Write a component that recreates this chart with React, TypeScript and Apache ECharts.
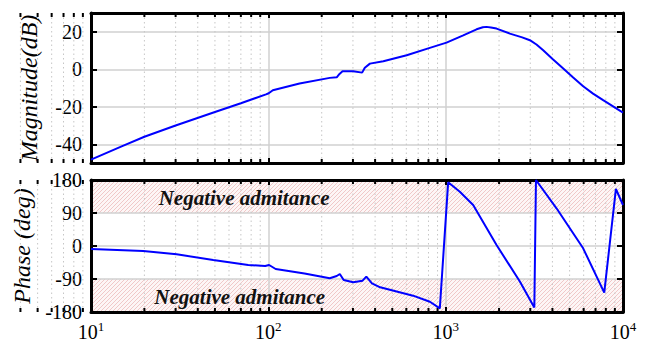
import React, { useEffect, useRef } from "react";
import * as echarts from "echarts";

// Magnitude curve (frequency in Hz, magnitude in dB)
const magFreq = [10, 15, 20, 30, 50, 70, 97, 100.5, 106, 150, 222, 243, 252, 262, 301, 338, 350, 374, 445, 603, 814, 1011, 1256, 1494, 1620, 1700, 1800, 1936, 2302, 2700, 2985, 3251, 3548, 4036, 4603, 5236, 5960, 6776, 7727, 10000];
const magDb = [-48.2, -41, -36, -30, -22.8, -18.1, -13.4, -12.8, -11.2, -7.6, -4.6, -4.3, -2.5, -1.1, -1.1, -1.8, 0.8, 3.0, 4.3, 7.5, 11.4, 14.2, 18.1, 21.3, 22.4, 22.6, 22.3, 21.7, 19.0, 17.0, 15.5, 13.2, 10.1, 5.2, 0.4, -4.4, -9.1, -13.0, -16.5, -23.1];

// Phase curve (frequency in Hz, phase in deg)
const phaseFreq = [10, 19.7, 30.4, 48.9, 77, 96, 101, 110, 160, 222, 243, 253, 266, 301, 340, 357, 384, 427, 655, 815, 927, 1033, 1202, 1429, 1936, 2620, 3162, 3230, 4217, 5960, 7840, 9120, 10000];
const phaseDeg = [-8.2, -13.6, -22.7, -38, -51.8, -54.5, -51.8, -62.7, -75, -88, -81.8, -76.4, -92.7, -99, -94.6, -83.6, -101.8, -112.7, -135.5, -152, -170, 173.7, 148, 111.8, 2.7, -97, -168, 180, 102.8, -6.3, -127, 155.5, 111.8];

// Axis ticks
const minorFreq = [2, 3, 4, 5, 6, 7, 8, 9, 20, 30, 40, 50, 60, 70, 80, 90, 200, 300, 400, 500, 600, 700, 800, 900, 2000, 3000, 4000, 5000, 6000, 7000, 8000, 9000];
const magTicks = [-40, -20, 0, 20];
const F_MIN = 10;
const F_MAX = 10000;

// Negative admittance bands (deg)
const bandLow = [90, -180];
const bandHigh = [180, -90];

// Annotations
const noteFreq = [73, 69];
const notePhase = [131, -139];
const noteText = ["Negative admitance", "Negative admitance"];

const FONT = "Liberation Serif";

function makeHatch(): HTMLCanvasElement {
  const c = document.createElement("canvas");
  c.width = 4;
  c.height = 4;
  const g = c.getContext("2d")!;
  g.fillStyle = "#fdf6f6";
  g.fillRect(0, 0, 4, 4);
  g.strokeStyle = "#f0c8c8";
  g.lineWidth = 1;
  g.beginPath();
  g.moveTo(0, 4);
  g.lineTo(4, 0);
  g.moveTo(-1, 1);
  g.lineTo(1, -1);
  g.moveTo(3, 5);
  g.lineTo(5, 3);
  g.stroke();
  return c;
}

export default function App() {
  const ref = useRef<HTMLDivElement>(null);

  useEffect(() => {
    if (!ref.current) return;
    const chart = echarts.init(ref.current, null, { renderer: "svg" });
    const hatch = makeHatch();

    const frame = { show: true, onZero: false, lineStyle: { color: "#000", width: 3 } };
    const tickIn = (len: number) => ({ show: true, inside: true, length: len, lineStyle: { color: "#000", width: 2 } });
    const splitMajor = { show: true, lineStyle: { color: "#d0d0d0", width: 1.5 } };

    const minorSeries = (xi: number, yi: number, yRef: number) => ({
      type: "custom",
      xAxisIndex: xi,
      yAxisIndex: yi,
      z: 1,
      silent: true,
      data: minorFreq.map((f) => [f, yRef]),
      encode: { x: 0, y: 1 },
      renderItem: (params: any, api: any) => {
        const cs = params.coordSys;
        const x = api.coord([api.value(0), api.value(1)])[0];
        return {
          type: "group",
          children: [
            { type: "line", shape: { x1: x, y1: cs.y, x2: x, y2: cs.y + cs.height }, style: { stroke: "#c6c6c6", lineWidth: 1, lineDash: [1.5, 3] } },
            { type: "line", shape: { x1: x, y1: cs.y, x2: x, y2: cs.y + 4 }, style: { stroke: "#000", lineWidth: 2 } },
            { type: "line", shape: { x1: x, y1: cs.y + cs.height - 4, x2: x, y2: cs.y + cs.height }, style: { stroke: "#000", lineWidth: 2 } },
          ],
        };
      },
    });

    const xBase = (gridIndex: number, position: string, labels: boolean, split: boolean) => ({
      type: "log",
      logBase: 10,
      gridIndex,
      position,
      min: F_MIN,
      max: F_MAX,
      axisLine: frame,
      axisTick: tickIn(5),
      splitLine: split ? splitMajor : { show: false },
      axisLabel: labels
        ? {
            show: true,
            margin: 8,
            formatter: (v: number) => "{a|10}{b|" + Math.round(Math.log10(v)) + "}",
            rich: {
              a: { fontFamily: FONT, fontSize: 20, color: "#000", lineHeight: 22, verticalAlign: "bottom" },
              b: { fontFamily: FONT, fontSize: 13, color: "#000", verticalAlign: "top", lineHeight: 22 },
            },
          }
        : { show: false },
    });

    const yLabel = { fontFamily: FONT, fontSize: 20, color: "#000", margin: 9 };
    const yName = { fontFamily: FONT, fontStyle: "italic", fontSize: 24, color: "#000" };

    const option: any = {
      animation: false,
      textStyle: { fontFamily: FONT },
      grid: [
        { left: 91, top: 13, width: 532, height: 150 },
        { left: 91, top: 180, width: 532, height: 132 },
      ],
      xAxis: [xBase(0, "bottom", false, true), xBase(0, "top", false, false), xBase(1, "bottom", true, true), xBase(1, "top", false, false)],
      yAxis: [
        {
          type: "value",
          gridIndex: 0,
          position: "left",
          min: -50,
          max: 30,
          axisLine: frame,
          axisTick: { ...tickIn(6), customValues: magTicks },
          axisLabel: { ...yLabel, customValues: magTicks },
          splitLine: splitMajor,
          name: "Magnitude(dB)",
          nameLocation: "middle",
          nameGap: 50,
          nameTextStyle: yName,
        },
        {
          type: "value",
          gridIndex: 0,
          position: "right",
          min: -50,
          max: 30,
          axisLine: frame,
          axisTick: { ...tickIn(6), customValues: magTicks },
          axisLabel: { show: false },
          splitLine: { show: false },
        },
        {
          type: "value",
          gridIndex: 1,
          position: "left",
          min: -180,
          max: 180,
          interval: 90,
          axisLine: frame,
          axisTick: tickIn(6),
          axisLabel: yLabel,
          splitLine: splitMajor,
          name: "Phase (deg)",
          nameLocation: "middle",
          nameGap: 50,
          nameTextStyle: yName,
        },
        {
          type: "value",
          gridIndex: 1,
          position: "right",
          min: -180,
          max: 180,
          interval: 90,
          axisLine: frame,
          axisTick: tickIn(6),
          axisLabel: { show: false },
          splitLine: { show: false },
        },
      ],
      series: [
        {
          type: "custom",
          xAxisIndex: 2,
          yAxisIndex: 2,
          z: -1,
          silent: true,
          data: bandLow.map((lo, i) => [F_MIN, F_MAX, lo, bandHigh[i]]),
          encode: { x: [0, 1], y: [2, 3] },
          renderItem: (_p: any, api: any) => {
            const a = api.coord([api.value(0), api.value(3)]);
            const b = api.coord([api.value(1), api.value(2)]);
            return {
              type: "rect",
              shape: { x: a[0], y: a[1], width: b[0] - a[0], height: b[1] - a[1] },
              style: { fill: { image: hatch, repeat: "repeat" } },
            };
          },
        },
        minorSeries(0, 0, 0),
        minorSeries(2, 2, 0),
        {
          type: "line",
          xAxisIndex: 0,
          yAxisIndex: 0,
          z: 5,
          data: magFreq.map((f, i) => [f, magDb[i]]),
          showSymbol: false,
          lineStyle: { color: "#0000ff", width: 2 },
          clip: true,
        },
        {
          type: "line",
          xAxisIndex: 2,
          yAxisIndex: 2,
          z: 5,
          data: phaseFreq.map((f, i) => [f, phaseDeg[i]]),
          showSymbol: false,
          lineStyle: { color: "#0000ff", width: 2 },
          clip: true,
        },
        {
          type: "custom",
          xAxisIndex: 2,
          yAxisIndex: 2,
          z: 4,
          silent: true,
          data: noteFreq.map((f, i) => [f, notePhase[i], i]),
          encode: { x: 0, y: 1 },
          renderItem: (_p: any, api: any) => {
            const p = api.coord([api.value(0), api.value(1)]);
            return {
              type: "text",
              x: p[0],
              y: p[1],
              style: {
                text: noteText[api.value(2)],
                fontFamily: FONT,
                fontStyle: "italic",
                fontWeight: "bold",
                fontSize: 21,
                fill: "#111",
                align: "center",
                verticalAlign: "middle",
              },
            };
          },
        },
      ],
    };

    chart.setOption(option);
    return () => chart.dispose();
  }, []);

  return <div ref={ref} style={{ position: "absolute", left: 0, top: 0, width: 659, height: 343 }} />;
}
